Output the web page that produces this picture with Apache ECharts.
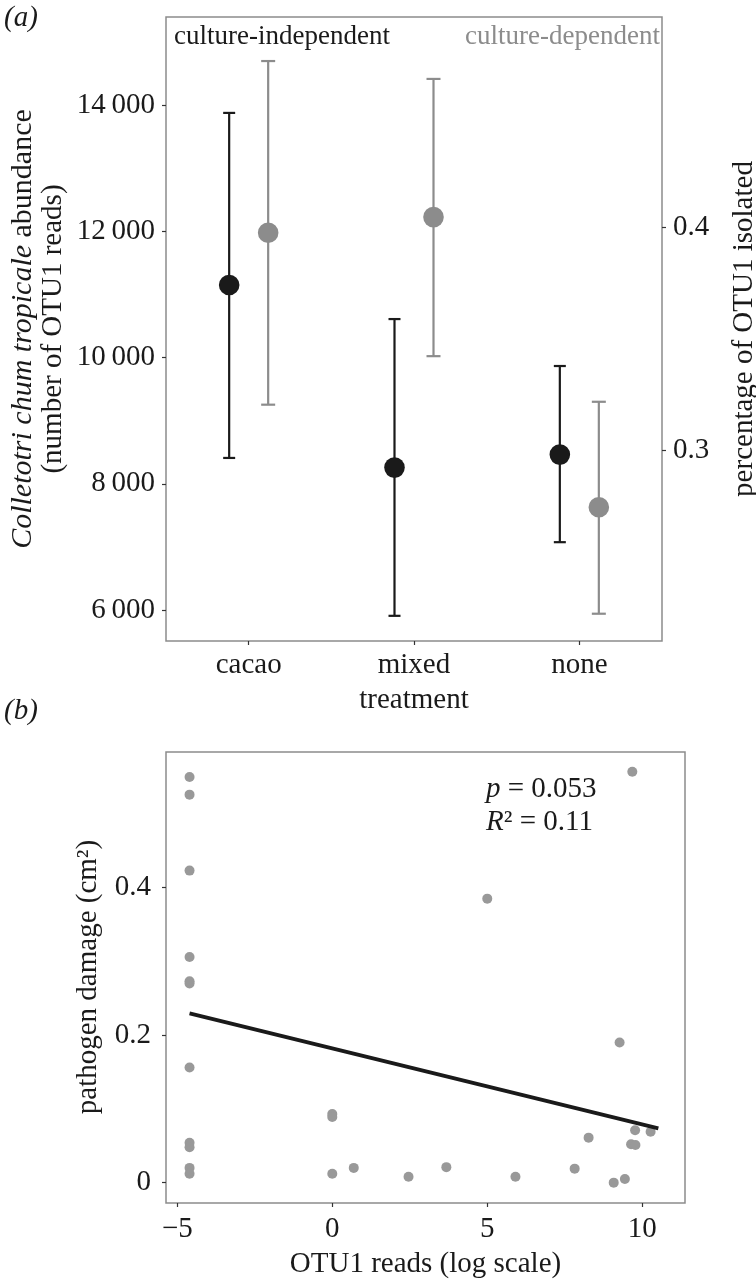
<!DOCTYPE html>
<html><head><meta charset="utf-8">
<script src="https://cdn.jsdelivr.net/npm/echarts@6/dist/echarts.min.js"></script>
<style>html,body{margin:0;padding:0;background:#fff}#c{width:756px;height:1283px}</style>
</head><body><div id="c"></div>
<script>
// ---- Panel (a) data ----
const categories = ['cacao', 'mixed', 'none'];
const indepMean = [11150, 8257, 8463];
const indepLow  = [8410, 5908, 7075];
const indepHigh = [13878, 10611, 9867];
const depMean = [0.3975, 0.4045, 0.2747];
const depLow  = [0.3206, 0.3423, 0.2271];
const depHigh = [0.4743, 0.4663, 0.3219];
const leftTicks = [6000, 8000, 10000, 12000, 14000];
const rightTicks = [0.3, 0.4];
// ---- Panel (b) data ----
const readsLog = [-4.605, -4.605, -4.605, -4.605, -4.605, -4.605, -4.605, -4.605, -4.605, -4.605, -4.605,
  0, 0, 0, 0.693, 2.46, 3.68, 5.0, 5.91, 7.82, 8.27, 9.08, 9.27, 9.44, 9.64, 9.78, 9.77, 9.68, 10.27];
const damage = [0.550, 0.526, 0.423, 0.306, 0.273, 0.270, 0.156, 0.054, 0.048, 0.020, 0.012,
  0.093, 0.089, 0.012, 0.020, 0.008, 0.021, 0.385, 0.008, 0.019, 0.061, 0.000, 0.190, 0.005, 0.052, 0.051, 0.071, 0.557, 0.069];
const fitX = [-4.605, 10.52];
const fitY = [0.2295, 0.0735];
const bTicksX = [-5, 0, 5, 10];
const bTicksY = [0, 0.2, 0.4];

const FONT = '"Liberation Serif", "Times New Roman", serif';
const INK = '#1a1a1a';
const GREY = '#8c8c8c';
const DOT = '#999999';
const FS = 29;

function errRender(offset, color, capHalf, r, lw) {
  return function (params, api) {
    const c = api.value(0);
    const m = api.coord([c, api.value(1)]);
    const lo = api.coord([c, api.value(2)]);
    const hi = api.coord([c, api.value(3)]);
    const x = m[0] + offset;
    const ls = { stroke: color, lineWidth: lw };
    return { type: 'group', children: [
      { type: 'line', shape: { x1: x, y1: lo[1], x2: x, y2: hi[1] }, style: ls },
      { type: 'line', shape: { x1: x - capHalf, y1: lo[1], x2: x + capHalf, y2: lo[1] }, style: ls },
      { type: 'line', shape: { x1: x - capHalf, y1: hi[1], x2: x + capHalf, y2: hi[1] }, style: ls },
      { type: 'circle', shape: { cx: x, cy: m[1], r: r }, style: { fill: color } }
    ] };
  };
}

const lblStyle = { fontFamily: FONT, fontSize: FS, color: INK };
const tickStyle = { show: true, length: 4, lineStyle: { color: '#333', width: 1.2 } };
const noLine = { show: false, onZero: false };
const thin = v => String(v).replace(/(\d)(?=(\d{3})$)/, '$1\u2009');

const txt = (o) => Object.assign({ type: 'text', z: 100 }, o);

const option = {
  animation: false,
  backgroundColor: '#fff',
  textStyle: { fontFamily: FONT },
  grid: [
    { left: 166, top: 17, width: 496, height: 624, show: true, borderColor: GREY, borderWidth: 1.5 },
    { left: 166, top: 752, width: 519, height: 451, show: true, borderColor: GREY, borderWidth: 1.5 }
  ],
  xAxis: [
    { gridIndex: 0, type: 'category', data: categories, boundaryGap: true,
      axisLine: noLine, splitLine: { show: false },
      axisTick: Object.assign({ alignWithLabel: true }, tickStyle),
      axisLabel: Object.assign({ margin: 10 }, lblStyle),
      name: 'treatment', nameLocation: 'middle', nameGap: 45,
      nameTextStyle: lblStyle },
    { gridIndex: 1, type: 'value', min: -5.365, max: 11.38,
      axisLine: noLine, splitLine: { show: false },
      axisTick: Object.assign({ customValues: bTicksX }, tickStyle),
      axisLabel: Object.assign({ customValues: bTicksX, margin: 12,
        formatter: v => v < 0 ? '\u2212' + Math.abs(v) : String(v) }, lblStyle),
      name: 'OTU1 reads (log scale)', nameLocation: 'middle', nameGap: 47,
      nameTextStyle: lblStyle }
  ],
  yAxis: [
    { gridIndex: 0, type: 'value', min: 5509, max: 15398,
      axisLine: noLine, splitLine: { show: false },
      axisTick: Object.assign({ customValues: leftTicks }, tickStyle),
      axisLabel: Object.assign({ customValues: leftTicks, margin: 11, formatter: thin }, lblStyle) },
    { gridIndex: 0, type: 'value', position: 'right', min: 0.2149, max: 0.4940,
      axisLine: noLine, splitLine: { show: false },
      axisTick: Object.assign({ customValues: rightTicks }, tickStyle),
      axisLabel: Object.assign({ customValues: rightTicks, margin: 11, formatter: v => v.toFixed(1) }, lblStyle) },
    { gridIndex: 1, type: 'value', min: -0.0276, max: 0.5838,
      axisLine: noLine, splitLine: { show: false },
      axisTick: Object.assign({ customValues: bTicksY }, tickStyle),
      axisLabel: Object.assign({ customValues: bTicksY, margin: 15,
        formatter: v => v === 0 ? '0' : v.toFixed(1) }, lblStyle) }
  ],
  series: [
    { type: 'custom', name: 'culture-independent', xAxisIndex: 0, yAxisIndex: 0,
      renderItem: errRender(-19.5, INK, 6, 10.3, 2.2),
      data: categories.map((c, i) => [i, indepMean[i], indepLow[i], indepHigh[i]]) },
    { type: 'custom', name: 'culture-dependent', xAxisIndex: 0, yAxisIndex: 1,
      renderItem: errRender(19.5, GREY, 7, 10.3, 2.2),
      data: categories.map((c, i) => [i, depMean[i], depLow[i], depHigh[i]]) },
    { type: 'scatter', xAxisIndex: 1, yAxisIndex: 2, symbolSize: 10,
      itemStyle: { color: DOT, opacity: 1 },
      data: readsLog.map((x, i) => [x, damage[i]]) },
    { type: 'line', xAxisIndex: 1, yAxisIndex: 2, showSymbol: false, symbol: 'none',
      lineStyle: { color: INK, width: 3.8 },
      data: fitX.map((x, i) => [x, fitY[i]]) }
  ],
  graphic: [
    txt({ x: 4, y: 4, style: { text: '(a)', fontFamily: FONT, fontSize: FS, fontStyle: 'italic', fill: INK } }),
    txt({ x: 4, y: 697, style: { text: '(b)', fontFamily: FONT, fontSize: FS, fontStyle: 'italic', fill: INK } }),
    txt({ x: 174, y: 37, style: { text: 'culture-independent', fontFamily: FONT, fontSize: 27, fill: INK,
      textVerticalAlign: 'middle', verticalAlign: 'middle' } }),
    txt({ x: 660, y: 37, style: { text: 'culture-dependent', fontFamily: FONT, fontSize: 27, fill: GREY,
      textAlign: 'right', align: 'right', textVerticalAlign: 'middle', verticalAlign: 'middle' } }),
    txt({ x: 23, y: 329, rotation: Math.PI / 2, style: {
      text: '{i|Colletotri chum tropicale}{n| abundance}',
      rich: { i: { fontFamily: FONT, fontSize: 30, fontStyle: 'italic', fill: INK, color: INK },
              n: { fontFamily: FONT, fontSize: 30, fill: INK, color: INK } },
      fontFamily: FONT, fontSize: 30, fill: INK,
      textAlign: 'center', align: 'center', textVerticalAlign: 'middle', verticalAlign: 'middle' } }),
    txt({ x: 53, y: 329, rotation: Math.PI / 2, style: {
      text: '(number of OTU1 reads)', fontFamily: FONT, fontSize: FS, fill: INK,
      textAlign: 'center', align: 'center', textVerticalAlign: 'middle', verticalAlign: 'middle' } }),
    txt({ x: 744, y: 329, rotation: Math.PI / 2, style: {
      text: 'percentage of OTU1 isolated', fontFamily: FONT, fontSize: FS, fill: INK,
      textAlign: 'center', align: 'center', textVerticalAlign: 'middle', verticalAlign: 'middle' } }),
    txt({ x: 88, y: 977, rotation: Math.PI / 2, style: {
      text: 'pathogen damage (cm\u00B2)', fontFamily: FONT, fontSize: FS, fill: INK,
      textAlign: 'center', align: 'center', textVerticalAlign: 'middle', verticalAlign: 'middle' } }),
    txt({ x: 486, y: 789, style: {
      text: '{i|p} = 0.053', rich: { i: { fontFamily: FONT, fontSize: FS, fontStyle: 'italic', fill: INK, color: INK } },
      fontFamily: FONT, fontSize: FS, fill: INK, textVerticalAlign: 'middle', verticalAlign: 'middle' } }),
    txt({ x: 486, y: 822, style: {
      text: '{i|R}\u00B2 = 0.11', rich: { i: { fontFamily: FONT, fontSize: FS, fontStyle: 'italic', fill: INK, color: INK } },
      fontFamily: FONT, fontSize: FS, fill: INK, textVerticalAlign: 'middle', verticalAlign: 'middle' } })
  ]
};

const chart = echarts.init(document.getElementById('c'), null, { renderer: 'canvas' });
chart.setOption(option);
</script>
</body></html>
